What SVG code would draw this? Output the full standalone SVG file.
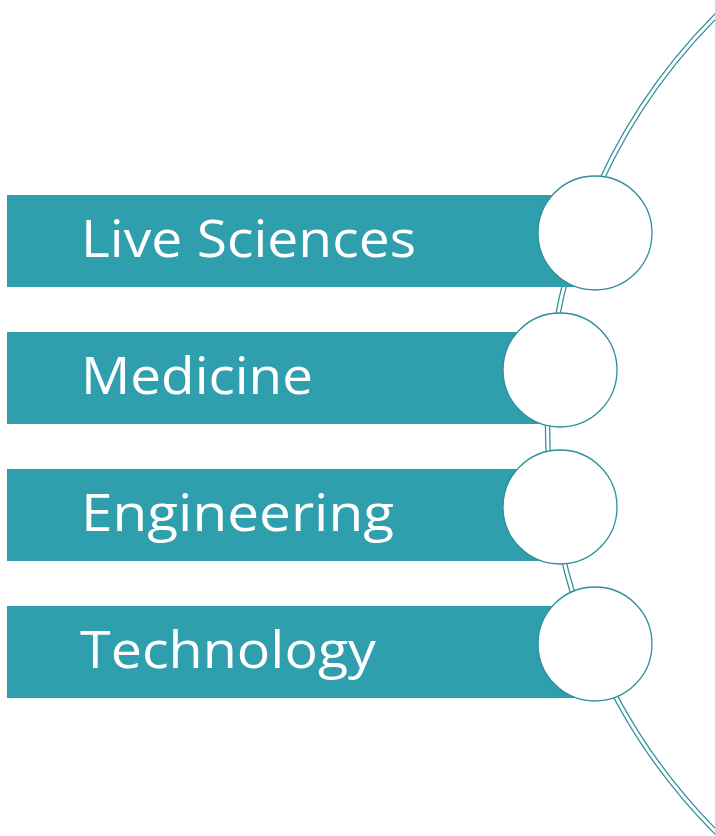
<svg xmlns="http://www.w3.org/2000/svg" width="715" height="836" viewBox="0 0 715 836">
  <style>
    .bar { fill: #309FAD; }
    .node-circle { fill: #FFFFFF; stroke: #2E8F9C; stroke-width: 1.3; }
    .label { font-family: "Open Sans", "Liberation Sans", sans-serif; font-size: 52px; fill: #FFFFFF; }
    .arc-outer { fill: none; stroke: #2E8F9C; stroke-width: 5.5; }
    .arc-inner { fill: none; stroke: #FFFFFF; stroke-width: 3; }
  </style>
  <rect width="715" height="836" fill="#FFFFFF"/>
  <g id="connectors">
    <circle class="arc-outer" cx="1126" cy="424" r="578.5"/>
    <circle class="arc-inner" cx="1126" cy="424" r="578.5"/>
  </g>
  <g id="node-live-sciences">
    <rect class="bar" x="7" y="195" width="588" height="92"/>
    <circle class="node-circle" cx="595" cy="233" r="57"/>
    <text class="label" x="81" y="257" textLength="335" lengthAdjust="spacingAndGlyphs">Live Sciences</text>
  </g>
  <g id="node-medicine">
    <rect class="bar" x="7" y="332" width="553" height="92"/>
    <circle class="node-circle" cx="560" cy="370" r="57"/>
    <text class="label" x="81" y="394" textLength="232" lengthAdjust="spacingAndGlyphs">Medicine</text>
  </g>
  <g id="node-engineering">
    <rect class="bar" x="7" y="469" width="553" height="92"/>
    <circle class="node-circle" cx="560" cy="507" r="57"/>
    <text class="label" x="81" y="531" textLength="313" lengthAdjust="spacingAndGlyphs">Engineering</text>
  </g>
  <g id="node-technology">
    <rect class="bar" x="7" y="606" width="588" height="92"/>
    <circle class="node-circle" cx="595" cy="644" r="57"/>
    <text class="label" x="80" y="668" textLength="296" lengthAdjust="spacingAndGlyphs">Technology</text>
  </g>
</svg>
